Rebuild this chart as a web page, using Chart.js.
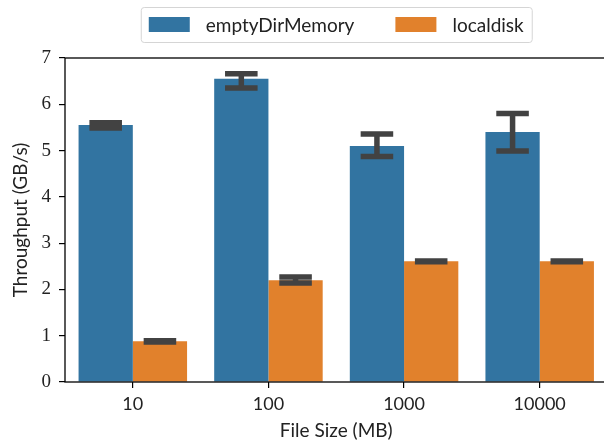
<!DOCTYPE html>
<html>
<head>
<meta charset="utf-8">
<script src="https://cdn.jsdelivr.net/npm/chart.js@4/dist/chart.umd.min.js"></script>
<style>
  html, body { margin: 0; padding: 0; background: #fff; overflow: hidden; }
  #wrap { width: 612px; height: 444px; }
</style>
</head>
<body>
<div id="wrap"><canvas id="chart"></canvas></div>
<script>
const fileSizes = ['10', '100', '1000', '10000'];
const seriesNames = ['emptyDirMemory', 'localdisk'];

const emptyDirMemory = [5.55, 6.55, 5.10, 5.40];
const emptyDirLow = [5.49, 6.35, 4.87, 4.99];
const emptyDirHigh = [5.60, 6.66, 5.36, 5.80];

const localdisk = [0.88, 2.20, 2.61, 2.61];
const localdiskLow = [0.865, 2.14, 2.60, 2.60];
const localdiskHigh = [0.892, 2.27, 2.615, 2.615];

const yTicks = [0, 1, 2, 3, 4, 5, 6, 7];

const SANS = 'Lato, "Open Sans", sans-serif';
const SERIF = '"Liberation Serif", "DejaVu Serif", serif';
const BLUE = '#3274a1';
const ORANGE = '#e1812c';
const ERR = '#424242';

const errorBars = {
  id: 'errorBars',
  afterDatasetsDraw(chart) {
    const ctx = chart.ctx;
    const y = chart.scales.y;
    const ranges = [[emptyDirLow, emptyDirHigh], [localdiskLow, localdiskHigh]];
    ctx.save();
    ctx.strokeStyle = ERR;
    ctx.lineWidth = 5.5;
    ctx.lineCap = 'butt';
    chart.data.datasets.forEach((ds, di) => {
      const meta = chart.getDatasetMeta(di);
      meta.data.forEach((bar, i) => {
        const lo = y.getPixelForValue(ranges[di][0][i]);
        const hi = y.getPixelForValue(ranges[di][1][i]);
        const half = bar.width * 0.3;
        ctx.beginPath();
        ctx.moveTo(bar.x, lo + 2.75);
        ctx.lineTo(bar.x, hi - 2.75);
        ctx.moveTo(bar.x - half, lo);
        ctx.lineTo(bar.x + half, lo);
        ctx.moveTo(bar.x - half, hi);
        ctx.lineTo(bar.x + half, hi);
        ctx.stroke();
      });
    });
    ctx.restore();
  }
};

const frameAndLegend = {
  id: 'frameAndLegend',
  afterDraw(chart) {
    const ctx = chart.ctx;
    const a = chart.chartArea;
    ctx.save();
    ctx.strokeStyle = '#000';
    ctx.lineWidth = 1.3;
    ctx.strokeRect(a.left, a.top, a.right - a.left, a.bottom - a.top);

    // legend
    ctx.font = '19px ' + SANS;
    const patchW = 41, patchH = 15, gap = 16, between = 41, pad = 8;
    const widths = seriesNames.map(n => ctx.measureText(n).width);
    const total = pad * 2 + patchW * 2 + gap * 2 + widths[0] + widths[1] + between;
    const cx = (a.left + a.right) / 2;
    const left = cx - total / 2;
    const top = 7, h = 35;
    ctx.lineWidth = 1;
    ctx.strokeStyle = '#d5d5d5';
    ctx.beginPath();
    ctx.roundRect(left + 0.5, top + 0.5, total, h, 3);
    ctx.stroke();
    const colors = [BLUE, ORANGE];
    let x = left + pad;
    const midY = top + h / 2;
    ctx.textBaseline = 'middle';
    seriesNames.forEach((n, i) => {
      ctx.fillStyle = colors[i];
      ctx.fillRect(x, midY - patchH / 2, patchW, patchH);
      x += patchW + gap;
      ctx.fillStyle = '#222';
      ctx.fillText(n, x, midY + 1);
      x += widths[i] + between;
    });
    ctx.restore();
  }
};

new Chart(document.getElementById('chart'), {
  type: 'bar',
  data: {
    labels: fileSizes,
    datasets: [
      { label: seriesNames[0], data: emptyDirMemory, backgroundColor: BLUE },
      { label: seriesNames[1], data: localdisk, backgroundColor: ORANGE },
    ],
  },
  options: {
    responsive: true,
    maintainAspectRatio: false,
    animation: false,
    categoryPercentage: 0.8,
    barPercentage: 1.0,
    layout: { padding: { top: 58, right: 4.5, left: 0, bottom: 0 } },
    plugins: { legend: { display: false }, tooltip: { enabled: false } },
    scales: {
      x: {
        grid: { offset: false, drawOnChartArea: false, drawTicks: true, tickLength: 6, tickColor: '#000', lineWidth: 1.2 },
        border: { display: false },
        ticks: { color: '#222', font: { family: SANS, size: 18 }, padding: 5, maxRotation: 0 },
        title: { display: true, text: 'File Size (MB)', color: '#222', font: { family: SANS, size: 19 }, padding: { top: 0, bottom: 2 } },
        afterFit: s => { s.height = 62; },
      },
      y: {
        min: 0,
        max: 7,
        afterBuildTicks: s => { s.ticks = yTicks.map(v => ({ value: v })); },
        grid: { drawOnChartArea: false, drawTicks: true, tickLength: 6, tickColor: '#000', lineWidth: 1.2 },
        border: { display: false },
        ticks: { color: '#222', font: { family: SERIF, size: 19 }, padding: 8 },
        title: { display: true, text: 'Throughput (GB/s)', color: '#222', font: { family: SANS, size: 19 }, padding: { top: 9, bottom: 0 } },
        afterFit: s => { s.width = 65; },
      },
    },
  },
  plugins: [errorBars, frameAndLegend],
});
</script>
</body>
</html>
